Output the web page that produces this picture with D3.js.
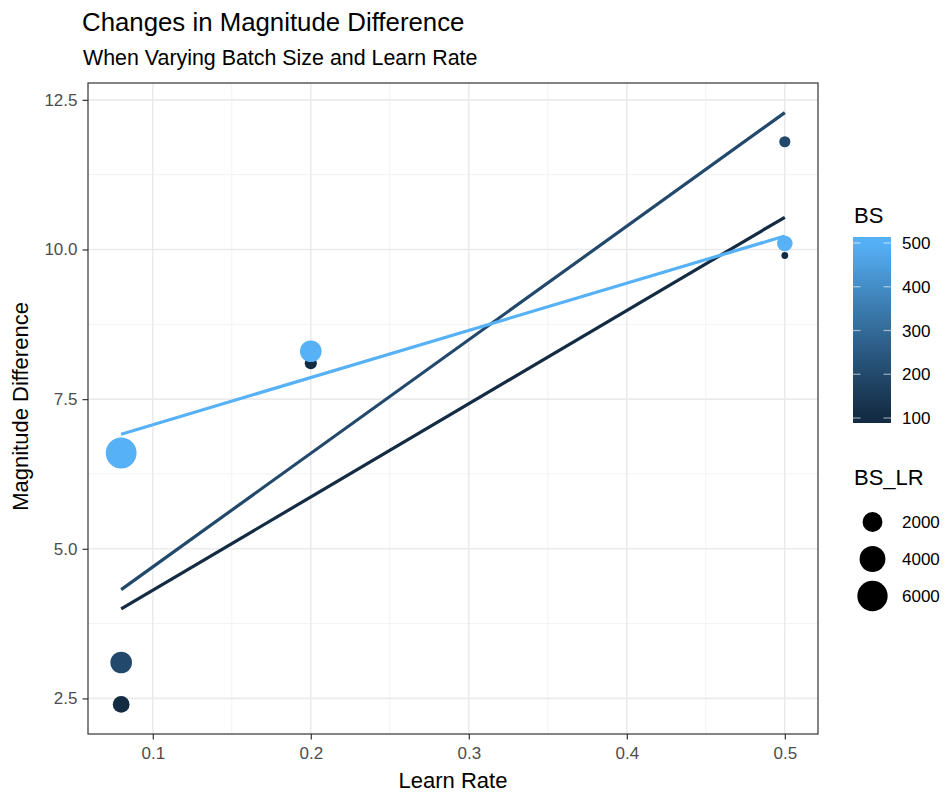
<!DOCTYPE html>
<html>
<head>
<meta charset="utf-8">
<script src="https://cdn.jsdelivr.net/npm/d3@7"></script>
<style>
  body { margin: 0; background: #fff; }
  svg { font-family: "Liberation Sans", Arial, sans-serif; }
</style>
</head>
<body>
<svg id="chart" width="948" height="794"></svg>
<script>
// data
const learnRates = [0.08, 0.2, 0.5];
const batchSizes = [100, 200, 500];
const magDiff100 = [2.4, 8.1, 9.9];
const magDiff200 = [3.1, 8.3, 11.8];
const magDiff500 = [6.6, 8.3, 10.1];
const xTicks = [0.1, 0.2, 0.3, 0.4, 0.5];
const yTicks = [2.5, 5.0, 7.5, 10.0, 12.5];
const bsTicks = [100, 200, 300, 400, 500];
const sizeBreaks = [2000, 4000, 6000];

const seriesValues = [magDiff100, magDiff200, magDiff500];

// one row per point, BS_LR = BS / LR
const points = [];
batchSizes.forEach((bs, i) => {
  learnRates.forEach((lr, j) => {
    points.push({bs: bs, lr: lr, y: seriesValues[i][j], bslr: bs / lr});
  });
});

// least squares line for each batch size (geom_smooth(method = "lm"))
function fit(xs, ys) {
  const mx = d3.mean(xs), my = d3.mean(ys);
  let sxy = 0, sxx = 0;
  xs.forEach((x, k) => { sxy += (x - mx) * (ys[k] - my); sxx += (x - mx) * (x - mx); });
  const b = sxy / sxx;
  return x => my + b * (x - mx);
}
const xMin = d3.min(learnRates), xMax = d3.max(learnRates);
const fits = batchSizes.map((bs, i) => {
  const f = fit(learnRates, seriesValues[i]);
  return {bs: bs, pts: [[xMin, f(xMin)], [xMax, f(xMax)]]};
});

const svg = d3.select('#chart');
const panel = {left: 88, right: 818, top: 83, bottom: 734};

// 5% expansion like ggplot
const xr = xMax - xMin;
const allY = points.map(d => d.y).concat(fits.flatMap(f => f.pts.map(p => p[1])));
const yLo = d3.min(allY), yHi = d3.max(allY), yr = yHi - yLo;
const x = d3.scaleLinear().domain([xMin - 0.05 * xr, xMax + 0.05 * xr]).range([panel.left, panel.right]);
const y = d3.scaleLinear().domain([yLo - 0.05 * yr, yHi + 0.05 * yr]).range([panel.bottom, panel.top]);

const colour = d3.scaleLinear().domain([100, 500]).range(['#132B43', '#56B1F7'])
  .interpolate(d3.interpolateLab).clamp(true);

const bsMin = d3.min(points, d => d.bslr), bsMax = d3.max(points, d => d.bslr);
const rScale = d3.scaleLinear().domain([0, 1]).range([3.4, 15.4]);
const radius = v => rScale(Math.sqrt(Math.max(0, (v - bsMin) / (bsMax - bsMin))));

// grid
const grid = svg.append('g');
const xMinor = [0.15, 0.25, 0.35, 0.45];
const yMinor = [3.75, 6.25, 8.75, 11.25];
grid.selectAll('.xminor').data(xMinor).join('line')
  .attr('x1', d => x(d)).attr('x2', d => x(d)).attr('y1', panel.top).attr('y2', panel.bottom)
  .attr('stroke', '#F2F2F2').attr('stroke-width', 1);
grid.selectAll('.yminor').data(yMinor).join('line')
  .attr('y1', d => y(d)).attr('y2', d => y(d)).attr('x1', panel.left).attr('x2', panel.right)
  .attr('stroke', '#F2F2F2').attr('stroke-width', 1);
grid.selectAll('.xmajor').data(xTicks).join('line')
  .attr('x1', d => x(d)).attr('x2', d => x(d)).attr('y1', panel.top).attr('y2', panel.bottom)
  .attr('stroke', '#EBEBEB').attr('stroke-width', 1.6);
grid.selectAll('.ymajor').data(yTicks).join('line')
  .attr('y1', d => y(d)).attr('y2', d => y(d)).attr('x1', panel.left).attr('x2', panel.right)
  .attr('stroke', '#EBEBEB').attr('stroke-width', 1.6);

// regression lines
const line = d3.line().x(d => x(d[0])).y(d => y(d[1]));
svg.append('g').selectAll('path').data(fits).join('path')
  .attr('d', d => line(d.pts))
  .attr('fill', 'none')
  .attr('stroke', d => colour(d.bs))
  .attr('stroke-width', 3.2);

// points
svg.append('g').selectAll('circle').data(points).join('circle')
  .attr('cx', d => x(d.lr))
  .attr('cy', d => y(d.y))
  .attr('r', d => radius(d.bslr))
  .attr('fill', d => colour(d.bs));

// panel border
svg.append('rect')
  .attr('x', panel.left).attr('y', panel.top)
  .attr('width', panel.right - panel.left).attr('height', panel.bottom - panel.top)
  .attr('fill', 'none').attr('stroke', '#333333').attr('stroke-width', 1.2);

// axes
const fmt = d3.format('.1f');
const xAxis = svg.append('g').attr('transform', `translate(0,${panel.bottom})`)
  .call(d3.axisBottom(x).tickValues(xTicks).tickFormat(fmt).tickSize(5.5).tickPadding(7.5));
const yAxis = svg.append('g').attr('transform', `translate(${panel.left},0)`)
  .call(d3.axisLeft(y).tickValues(yTicks).tickFormat(fmt).tickSize(5.5).tickPadding(5));
[xAxis, yAxis].forEach(a => {
  a.select('.domain').remove();
  a.selectAll('line').attr('stroke', '#333333').attr('stroke-width', 1.2);
  a.selectAll('text').attr('fill', '#4D4D4D').style('font-size', '17px')
    .style('font-family', '"Liberation Sans", Arial, sans-serif');
});

// titles
svg.append('text').attr('x', 82).attr('y', 31).text('Changes in Magnitude Difference')
  .style('font-size', '25.8px').attr('fill', '#000');
svg.append('text').attr('x', 83).attr('y', 65).text('When Varying Batch Size and Learn Rate')
  .style('font-size', '21.4px').attr('fill', '#000');
svg.append('text').attr('x', (panel.left + panel.right) / 2).attr('y', 788)
  .attr('text-anchor', 'middle').text('Learn Rate').style('font-size', '22px');
svg.append('text').attr('transform', `translate(27.5,${(panel.top + panel.bottom) / 2 - 2}) rotate(-90)`)
  .attr('text-anchor', 'middle').text('Magnitude Difference').style('font-size', '22px');

// colour legend
const leg = svg.append('g');
leg.append('text').attr('x', 854).attr('y', 223).text('BS').style('font-size', '22px');
const barX = 853, barW = 38;
const barY = d3.scaleLinear().domain([100, 500]).range([418, 243]);
const defs = svg.append('defs');
const grad = defs.append('linearGradient').attr('id', 'bsgrad')
  .attr('x1', 0).attr('y1', 1).attr('x2', 0).attr('y2', 0);
const barTop = 237, barBottom = 423;
d3.range(0, 1.0001, 0.05).forEach(t => {
  const v = barY.invert(barBottom + t * (barTop - barBottom));
  grad.append('stop').attr('offset', t).attr('stop-color', colour(v));
});
leg.append('rect').attr('x', barX).attr('y', barTop).attr('width', barW).attr('height', barBottom - barTop)
  .attr('fill', 'url(#bsgrad)');
leg.selectAll('.tl').data(bsTicks).join('line')
  .attr('x1', barX).attr('x2', barX + 7.5).attr('y1', d => barY(d)).attr('y2', d => barY(d))
  .attr('stroke', 'rgba(255,255,255,0.55)').attr('stroke-width', 1.2);
leg.selectAll('.tr').data(bsTicks).join('line')
  .attr('x1', barX + barW - 7.5).attr('x2', barX + barW).attr('y1', d => barY(d)).attr('y2', d => barY(d))
  .attr('stroke', 'rgba(255,255,255,0.55)').attr('stroke-width', 1.2);
leg.selectAll('.bl').data(bsTicks).join('text')
  .attr('x', 902).attr('y', d => barY(d)).attr('dy', '0.36em').text(d => d)
  .style('font-size', '17px').attr('fill', '#000');

// size legend
leg.append('text').attr('x', 854).attr('y', 485).text('BS_LR').style('font-size', '22px');
const sizeY = d3.scalePoint().domain(sizeBreaks).range([522, 596]);
leg.selectAll('.sp').data(sizeBreaks).join('circle')
  .attr('cx', 872.5).attr('cy', d => sizeY(d)).attr('r', d => radius(d)).attr('fill', '#000');
leg.selectAll('.sl').data(sizeBreaks).join('text')
  .attr('x', 902).attr('y', d => sizeY(d)).attr('dy', '0.36em').text(d => d)
  .style('font-size', '17px').attr('fill', '#000');
</script>
</body>
</html>
